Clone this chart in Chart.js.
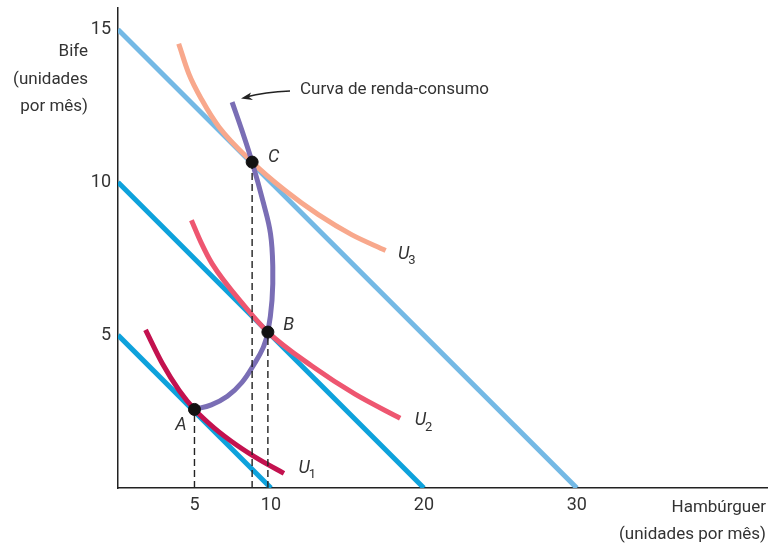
<!DOCTYPE html>
<html>
<head>
<meta charset="utf-8">
<script src="https://cdn.jsdelivr.net/npm/chart.js@4"></script>
<style>
  html, body { margin: 0; padding: 0; background: #fff; }
  #wrap { width: 768px; height: 545px; }
</style>
</head>
<body>
<div id="wrap"><canvas id="chart"></canvas></div>
<script>
const FONT = "Roboto, 'Liberation Sans', sans-serif";

// tick labels
const xTicks = [5, 10, 20, 30];
const yTicks = [5, 10, 15];

// budget lines (hamburger, bife)
const budget1 = [{x: 0, y: 5}, {x: 10, y: 0}];
const budget2 = [{x: 0, y: 10}, {x: 20, y: 0}];
const budget3 = [{x: 0, y: 15}, {x: 30, y: 0}];

// indifference curves
const u1 = [
  {x: 1.8, y: 5.17}, {x: 2.9, y: 4.07}, {x: 4.0, y: 3.19}, {x: 5.0, y: 2.57},
  {x: 6.3, y: 1.96}, {x: 7.8, y: 1.39}, {x: 9.3, y: 0.91}, {x: 10.85, y: 0.48}
];
const u2 = [
  {x: 4.8, y: 8.76}, {x: 5.45, y: 8.01}, {x: 6.15, y: 7.34}, {x: 8.33, y: 5.92},
  {x: 9.8, y: 5.1}, {x: 12.7, y: 3.98}, {x: 15.5, y: 3.07}, {x: 18.45, y: 2.28}
];
const u3 = [
  {x: 3.97, y: 14.53}, {x: 4.63, y: 13.55}, {x: 5.5, y: 12.68}, {x: 6.6, y: 11.81},
  {x: 8.77, y: 10.66}, {x: 10.95, y: 9.72}, {x: 13.1, y: 8.94}, {x: 15.3, y: 8.28},
  {x: 17.5, y: 7.77}
];

// curva de renda-consumo
const icc = [
  {x: 5, y: 2.57}, {x: 6.1, y: 2.72}, {x: 7.15, y: 3.0}, {x: 8.1, y: 3.45},
  {x: 8.9, y: 4.05}, {x: 9.5, y: 4.6}, {x: 9.8, y: 5.1}, {x: 10.07, y: 6.14},
  {x: 10.12, y: 7.23}, {x: 9.97, y: 8.32}, {x: 9.52, y: 9.3}, {x: 8.77, y: 10.66},
  {x: 8.1, y: 11.7}, {x: 7.46, y: 12.62}
];

// optimum points A, B, C
const pointNames = ['A', 'B', 'C'];
const optimum = [{x: 5, y: 2.57}, {x: 9.8, y: 5.1}, {x: 8.77, y: 10.66}];

const lineDs = (data, color, order, smooth) => ({
  type: 'line', data: data, borderColor: color, borderWidth: 5,
  pointRadius: 0, fill: false, order: order, borderCapStyle: 'butt',
  tension: smooth === 'free' ? 0.4 : 0,
  cubicInterpolationMode: smooth === 'mono' ? 'monotone' : 'default'
});

const dashed = optimum.map(p => ({
  type: 'line', data: [{x: p.x, y: 0}, {x: p.x, y: p.y}],
  borderColor: '#222', borderWidth: 1.4, borderDash: [7, 4],
  pointRadius: 0, order: 2
}));

// annotation text, data units
const annotations = [
  {text: 'A', x: 3.75, y: 2.05, sub: ''},
  {text: 'B', x: 10.8, y: 5.3, sub: ''},
  {text: 'C', x: 9.8, y: 10.8, sub: ''},
  {text: 'U', x: 11.8, y: 0.65, sub: '1'},
  {text: 'U', x: 19.4, y: 2.2, sub: '2'},
  {text: 'U', x: 18.3, y: 7.65, sub: '3'}
];

const labelPlugin = {
  id: 'labels',
  afterDatasetsDraw(chart) {
    const ctx = chart.ctx;
    const xs = chart.scales.x, ys = chart.scales.y;
    ctx.save();
    ctx.fillStyle = '#333';
    ctx.textBaseline = 'middle';
    annotations.forEach(a => {
      const px = xs.getPixelForValue(a.x), py = ys.getPixelForValue(a.y);
      ctx.font = 'italic 18px ' + FONT;
      ctx.textAlign = 'left';
      ctx.fillText(a.text, px, py);
      if (a.sub) {
        const w = ctx.measureText(a.text).width;
        ctx.font = '13px ' + FONT;
        ctx.fillText(a.sub, px + w - 1, py + 7);
      }
    });

    // callout for the income-consumption curve
    ctx.font = '17px ' + FONT;
    ctx.textAlign = 'left';
    ctx.fillText('Curva de renda-consumo', 300, 90);
    ctx.strokeStyle = '#222';
    ctx.lineWidth = 1.3;
    ctx.beginPath();
    ctx.moveTo(290, 91);
    ctx.quadraticCurveTo(265, 92, 246, 97);
    ctx.stroke();
    ctx.fillStyle = '#222';
    ctx.beginPath();
    ctx.moveTo(241, 98.5);
    ctx.lineTo(251, 92.5);
    ctx.lineTo(249, 97);
    ctx.lineTo(253, 100);
    ctx.closePath();
    ctx.fill();

    // axis titles
    ctx.fillStyle = '#333';
    ctx.font = '17px ' + FONT;
    ctx.textAlign = 'right';
    ctx.fillText('Bife', 88, 52);
    ctx.fillText('(unidades', 88, 80);
    ctx.fillText('por mês)', 88, 107);
    ctx.fillText('Hambúrguer', 766, 508);
    ctx.fillText('(unidades por mês)', 766, 535);
    ctx.restore();
  }
};

new Chart(document.getElementById('chart'), {
  type: 'scatter',
  data: {
    datasets: [
      {
        type: 'scatter', data: optimum, backgroundColor: '#111', borderColor: '#111',
        pointRadius: 6, pointHoverRadius: 6, order: 0
      },
      ...dashed,
      lineDs(icc, '#7a6eb5', 3, 'free'),
      lineDs(u1, '#c3124f', 4, 'mono'),
      lineDs(u2, '#ee5670', 4, 'mono'),
      lineDs(u3, '#f8a88c', 4, 'mono'),
      lineDs(budget1, '#0ea2dc', 5),
      lineDs(budget2, '#0ea2dc', 5),
      lineDs(budget3, '#74b9e5', 6)
    ]
  },
  options: {
    responsive: true,
    maintainAspectRatio: false,
    animation: false,
    layout: { autoPadding: false, padding: { top: 8, right: 0, left: 0, bottom: 0 } },
    plugins: {
      legend: { display: false },
      tooltip: { enabled: false }
    },
    scales: {
      x: {
        type: 'linear', min: 0, max: 42.5,
        grid: { display: false, drawTicks: false },
        border: { display: true, color: '#222', width: 1.5 },
        afterBuildTicks: s => { s.ticks = xTicks.map(v => ({value: v})); },
        afterFit: s => { s.height = 57; },
        ticks: { color: '#333', padding: 7, font: { family: FONT, size: 18 } }
      },
      y: {
        type: 'linear', min: 0, max: 15.7,
        grid: { display: false, drawTicks: false },
        border: { display: true, color: '#222', width: 1.5 },
        afterBuildTicks: s => { s.ticks = yTicks.map(v => ({value: v})); },
        afterFit: s => { s.width = 118; s.paddingTop = 0; s.paddingBottom = 0; },
        ticks: { color: '#333', padding: 7, font: { family: FONT, size: 18, lineHeight: 0.1 } }
      }
    }
  },
  plugins: [labelPlugin]
});
</script>
</body>
</html>
